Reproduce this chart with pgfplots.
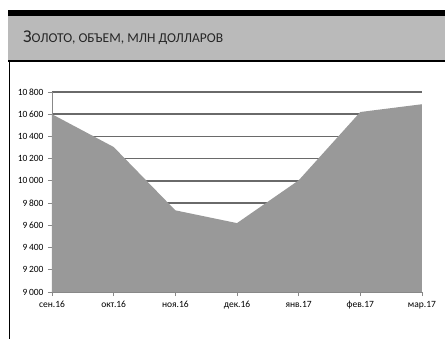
\documentclass[border=0pt]{standalone}
\usepackage{pgfplots}
\pgfplotsset{compat=1.18}
\usepackage{fontspec}
\setmainfont{Carlito}
\definecolor{areagray}{HTML}{999999}
\definecolor{bandgray}{HTML}{BABABA}
\definecolor{gridgray}{HTML}{6A6A6A}
\definecolor{axgray}{HTML}{888888}
\begin{document}
\begin{tikzpicture}[x=1pt,y=-1pt]
\useasboundingbox (0,0) rectangle (445,339);
\fill[bandgray] (8,16) rectangle (445,61);
\fill[black] (8,10) rectangle (445,16.5);
\draw[black,line width=2pt] (8,61.5) -- (445,61.5);
\draw[black,line width=1.6pt] (9.3,61) -- (9.3,339);
\node[anchor=base west,inner sep=0pt,text=black!85] at (23,42.5) {\fontsize{18}{18}\selectfont З\fontsize{13.5}{13}\selectfont ОЛОТО, ОБЪЕМ, МЛН ДОЛЛАРОВ};
\begin{axis}[
  at={(52pt,-292pt)}, anchor=south west,
  scale only axis, width=370pt, height=200pt,
  xmin=0, xmax=6, ymin=9000, ymax=10800,
  xtick={0,...,6},
  xticklabels={сен.16,окт.16,ноя.16,дек.16,янв.17,фев.17,мар.17},
  ytick={9000,9200,...,10800},
  scaled y ticks=false,
  axis x line*=bottom, axis y line*=left,
  axis line style={axgray,line width=0.8pt,-},
  tick align=outside,
  major tick length=4pt,
  tick style={axgray,line width=0.8pt},
  ymajorgrids,
  grid style={gridgray,line width=1.5pt},
  tick label style={font=\fontsize{9.5}{10}\selectfont},
  yticklabel={\pgfmathprintnumber[fixed,precision=0,1000 sep={\,},assume math mode=true]{\tick}},
  yticklabel style={xshift=-1pt},
  xticklabel style={yshift=-2pt},
  clip=false,
]
\addplot[fill=areagray,draw=none] coordinates {
 (0,10600) (1,10305) (2,9735) (3,9620) (4,10005) (5,10620) (6,10690)
} \closedcycle;
\end{axis}
\end{tikzpicture}
\end{document}
